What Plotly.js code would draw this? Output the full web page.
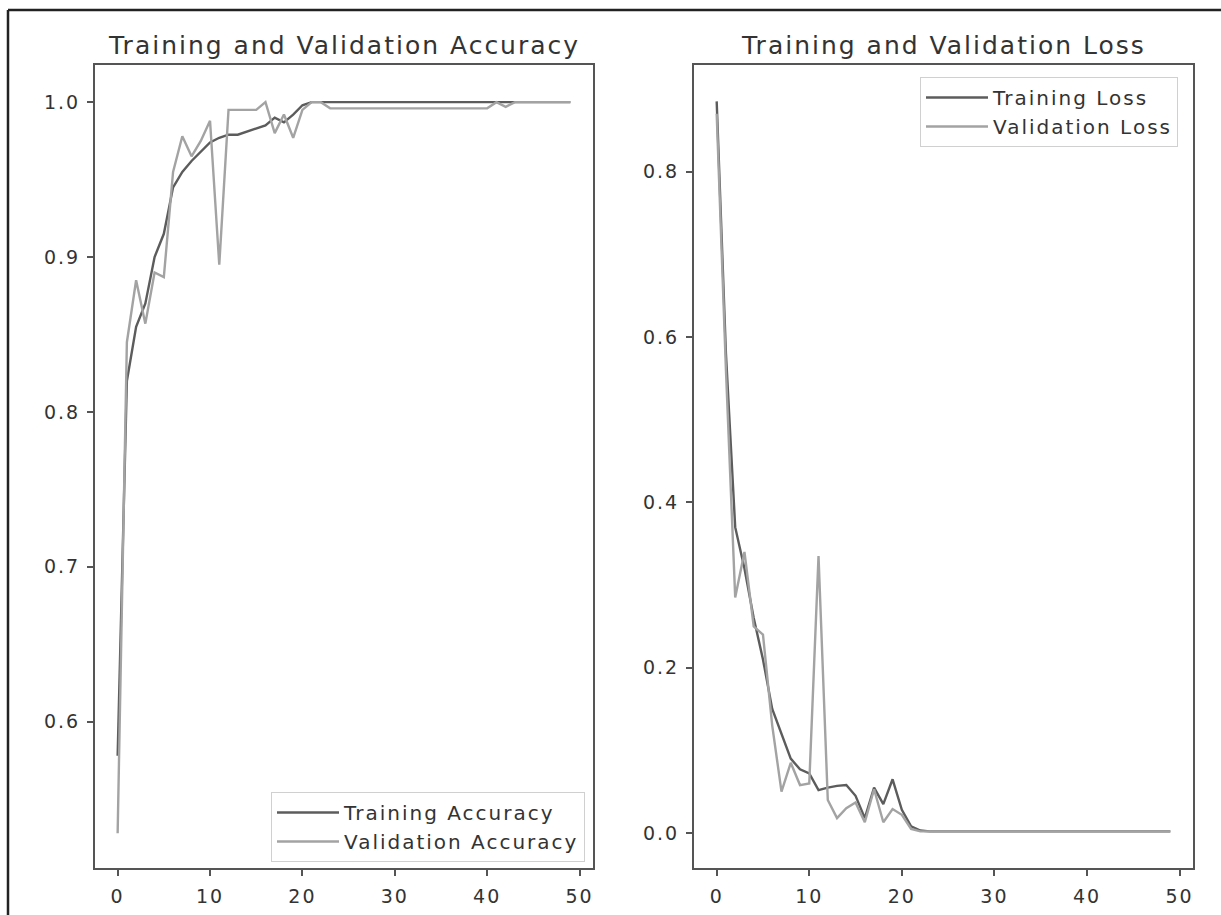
<!DOCTYPE html>
<html>
<head>
<meta charset="utf-8">
<script src="https://cdn.plot.ly/plotly-3.0.1.min.js"></script>
<style>
  html, body { margin: 0; padding: 0; background: #ffffff; }
  #chart { width: 1221px; height: 915px; }
  text { letter-spacing: 2px; }
</style>
</head>
<body>
<div id="chart"></div>
<script>
// ---- data ----
const epochs = [0,1,2,3,4,5,6,7,8,9,10,11,12,13,14,15,16,17,18,19,20,21,22,23,24,25,26,27,28,29,30,31,32,33,34,35,36,37,38,39,40,41,42,43,44,45,46,47,48,49];

const trainAcc = [0.578,0.82,0.855,0.87,0.90,0.915,0.945,0.955,0.962,0.968,0.974,0.977,0.979,0.979,0.981,0.983,0.985,0.99,0.987,0.992,0.998,1.0,1.0,1.0,1.0,1.0,1.0,1.0,1.0,1.0,1.0,1.0,1.0,1.0,1.0,1.0,1.0,1.0,1.0,1.0,1.0,1.0,1.0,1.0,1.0,1.0,1.0,1.0,1.0,1.0];

const valAcc = [0.528,0.845,0.885,0.857,0.89,0.887,0.955,0.978,0.965,0.975,0.988,0.895,0.995,0.995,0.995,0.995,1.0,0.98,0.992,0.977,0.995,1.0,1.0,0.996,0.996,0.996,0.996,0.996,0.996,0.996,0.996,0.996,0.996,0.996,0.996,0.996,0.996,0.996,0.996,0.996,0.996,1.0,0.997,1.0,1.0,1.0,1.0,1.0,1.0,1.0];

const trainLoss = [0.885,0.58,0.37,0.32,0.26,0.21,0.15,0.12,0.09,0.077,0.072,0.052,0.055,0.057,0.058,0.045,0.018,0.055,0.035,0.065,0.028,0.008,0.003,0.002,0.002,0.002,0.002,0.002,0.002,0.002,0.002,0.002,0.002,0.002,0.002,0.002,0.002,0.002,0.002,0.002,0.002,0.002,0.002,0.002,0.002,0.002,0.002,0.002,0.002,0.002];

const valLoss = [0.87,0.56,0.285,0.34,0.25,0.24,0.13,0.05,0.085,0.058,0.06,0.335,0.04,0.018,0.03,0.037,0.013,0.053,0.013,0.029,0.022,0.005,0.002,0.002,0.002,0.002,0.002,0.002,0.002,0.002,0.002,0.002,0.002,0.002,0.002,0.002,0.002,0.002,0.002,0.002,0.002,0.002,0.002,0.002,0.002,0.002,0.002,0.002,0.002,0.002];

const titles = ["Training and Validation Accuracy", "Training and Validation Loss"];
const seriesNames = ["Training Accuracy", "Validation Accuracy", "Training Loss", "Validation Loss"];
const xTicks = [0,10,20,30,40,50];
const accTicks = [0.6,0.7,0.8,0.9,1.0];
const lossTicks = [0.0,0.2,0.4,0.6,0.8];

// ---- styling ----
const W = 1221, H = 915;
const trainColor = "#5c5c5c";
const valColor = "#a3a3a3";
const spine = "#555555";
const textColor = "#333333";
const FONT = "DejaVu Sans";

const px = v => v / W;
const py = v => (H - v) / H;

const traces = [
  {x: epochs, y: trainAcc, name: seriesNames[0], type: "scatter", mode: "lines",
   line: {color: trainColor, width: 2.4}, xaxis: "x", yaxis: "y", legend: "legend"},
  {x: epochs, y: valAcc, name: seriesNames[1], type: "scatter", mode: "lines",
   line: {color: valColor, width: 2.4}, xaxis: "x", yaxis: "y", legend: "legend"},
  {x: epochs, y: trainLoss, name: seriesNames[2], type: "scatter", mode: "lines",
   line: {color: trainColor, width: 2.4}, xaxis: "x2", yaxis: "y2", legend: "legend2"},
  {x: epochs, y: valLoss, name: seriesNames[3], type: "scatter", mode: "lines",
   line: {color: valColor, width: 2.4}, xaxis: "x2", yaxis: "y2", legend: "legend2"}
];

const axisCommon = {
  showline: true, mirror: true, linecolor: spine, linewidth: 2,
  ticks: "outside", ticklen: 6, tickwidth: 2, tickcolor: spine,
  showgrid: false, zeroline: false,
  tickfont: {family: FONT, size: 19, color: textColor}
};

const yDom = [py(868), py(65)];

const layout = {
  width: W, height: H,
  margin: {l: 0, r: 0, t: 0, b: 0},
  paper_bgcolor: "#ffffff", plot_bgcolor: "#ffffff",
  font: {family: FONT, color: textColor},
  showlegend: true,
  xaxis: Object.assign({}, axisCommon, {domain: [px(95), px(593)], range: [-2.45, 51.45],
    tickvals: xTicks, ticklabelstandoff: 4, anchor: "y"}),
  yaxis: Object.assign({}, axisCommon, {domain: yDom, range: [0.5055, 1.024],
    tickvals: accTicks, tickformat: ".1f", ticklabelstandoff: 3, anchor: "x"}),
  xaxis2: Object.assign({}, axisCommon, {domain: [px(694), px(1193)], range: [-2.45, 51.45],
    tickvals: xTicks, ticklabelstandoff: 4, anchor: "y2"}),
  yaxis2: Object.assign({}, axisCommon, {domain: yDom, range: [-0.0423, 0.929],
    tickvals: lossTicks, tickformat: ".1f", ticklabelstandoff: 3, anchor: "x2"}),
  legend: {
    x: px(585), y: py(862), xanchor: "right", yanchor: "bottom",
    bgcolor: "#ffffff", bordercolor: "#d0d0d0", borderwidth: 1,
    font: {family: FONT, size: 20, color: textColor}, itemwidth: 62
  },
  legend2: {
    x: px(1178), y: py(77), xanchor: "right", yanchor: "top",
    bgcolor: "#ffffff", bordercolor: "#d0d0d0", borderwidth: 1,
    font: {family: FONT, size: 20, color: textColor}, itemwidth: 62
  },
  annotations: [
    {text: titles[0], xref: "paper", yref: "paper", x: px(344), y: py(46),
     xanchor: "center", yanchor: "middle", showarrow: false,
     font: {family: FONT, size: 25, color: textColor}},
    {text: titles[1], xref: "paper", yref: "paper", x: px(943), y: py(46),
     xanchor: "center", yanchor: "middle", showarrow: false,
     font: {family: FONT, size: 25, color: textColor}}
  ],
  shapes: [
    {type: "line", xref: "paper", yref: "paper", x0: px(8), x1: px(8), y0: 0, y1: py(10),
     line: {color: "#222222", width: 2.5}},
    {type: "line", xref: "paper", yref: "paper", x0: px(8), x1: 1, y0: py(10), y1: py(10),
     line: {color: "#222222", width: 2.5}}
  ]
};

Plotly.newPlot("chart", traces, layout, {staticPlot: true, displayModeBar: false});
</script>
</body>
</html>
